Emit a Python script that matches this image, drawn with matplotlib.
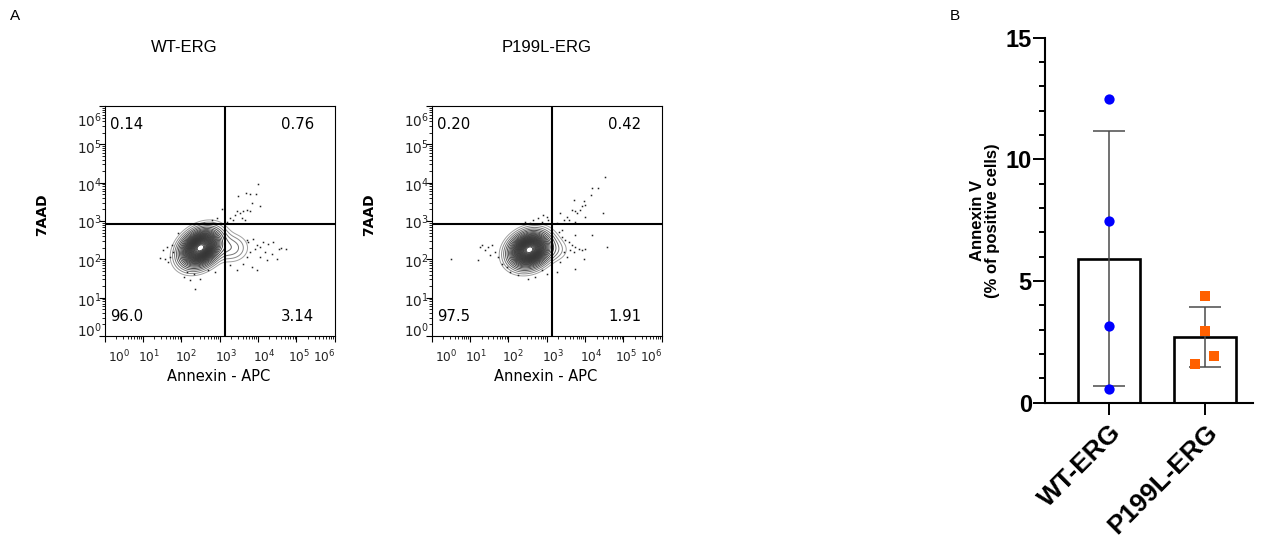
import numpy as np
import matplotlib
matplotlib.use("Agg")
import matplotlib.pyplot as plt
from matplotlib.ticker import LogLocator, MultipleLocator, NullFormatter
from matplotlib.transforms import blended_transform_factory

# ---------------- panel A: flow data (all in log10 units) ----------------
titles = ["WT-ERG", "P199L-ERG"]
quad_pct = [["0.14", "0.76", "96.0", "3.14"], ["0.20", "0.42", "97.5", "1.91"]]
gate_x = [3.14, 3.13]   # annexin gate
gate_y = [2.91, 2.91]   # 7AAD gate

# main population: centre x, centre y, sd x, sd y, corr
main_pop = [[2.50, 2.30, 0.26, 0.24, 0.30], [2.55, 2.25, 0.26, 0.225, 0.20]]
# annexin+ shoulder: centre x, centre y, sd x, sd y, relative weight
shoulder_pop = [[3.28, 2.30, 0.25, 0.20, 0.05], [3.17, 2.25, 0.22, 0.17, 0.03]]

# outlier events
wt_dots_x = [4.01, 3.80, 3.95, 3.69, 3.49, 4.06, 3.84, 3.71, 3.62, 3.80, 3.54, 3.40, 3.27, 3.36, 3.58, 3.67, 3.45, 3.06, 3.19,
             3.75, 3.88, 3.97, 4.06, 4.14, 4.27, 4.40, 4.54, 4.74, 3.80, 3.71, 3.84, 3.97, 4.19, 4.06, 4.36, 3.62, 3.45, 3.27, 4.23, 3.71, 3.93, 4.60, 4.50,
             1.53, 1.62, 1.71, 1.66, 1.79, 2.06, 2.14, 2.36, 2.49, 2.32, 1.58, 1.75, 1.92, 2.80, 2.93, 2.58, 2.71, 2.88, 2.23, 1.45]
wt_dots_y = [3.97, 3.71, 3.71, 3.73, 3.66, 3.39, 3.48, 3.29, 3.25, 3.25, 3.20, 3.16, 3.07, 3.03, 3.07, 3.03, 3.25, 3.31, 2.98,
             2.46, 2.54, 2.37, 2.32, 2.46, 2.41, 2.46, 2.28, 2.26, 2.19, 2.06, 1.80, 1.71, 2.19, 2.06, 2.15, 1.89, 1.71, 1.84, 1.97, 2.50, 2.28, 2.30, 2.00,
             2.24, 2.32, 2.06, 1.93, 2.19, 1.53, 1.67, 1.23, 1.49, 1.62, 2.02, 2.37, 2.68, 3.03, 3.07, 2.94, 1.71, 1.67, 1.45, 2.03]
p199_dots_x = [4.52, 4.18, 4.35, 4.16, 3.96, 4.00, 3.92, 3.70, 3.66, 3.74, 3.79, 3.87, 4.48, 3.52, 3.44, 3.57, 3.74, 3.35, 3.26, 4.00,
               2.44, 2.65, 2.78, 2.91, 3.00, 3.04, 2.57, 2.87,
               3.31, 3.39, 3.48, 3.57, 3.66, 3.74, 3.61, 3.70, 3.83, 3.92, 4.00, 4.18, 3.74, 3.52, 3.44, 3.35, 3.74, 3.96, 4.57, 3.26, 3.39,
               1.26, 1.31, 1.39, 1.48, 1.52, 1.57, 1.22, 1.74, 1.96, 2.04, 2.26, 2.52, 2.70, 3.00, 1.83, 2.87, 1.65, 0.50]
p199_dots_y = [4.15, 3.86, 3.86, 3.68, 3.51, 3.42, 3.38, 3.55, 3.29, 3.25, 3.20, 3.29, 3.20, 3.11, 3.03, 3.03, 2.98, 3.20, 2.94, 3.11,
               2.98, 3.03, 3.07, 3.16, 3.11, 3.03, 2.94, 2.98,
               2.72, 2.59, 2.50, 2.46, 2.37, 2.32, 2.24, 2.19, 2.28, 2.24, 2.28, 2.63, 2.63, 2.06, 2.19, 1.93, 1.75, 2.02, 2.31, 1.67, 2.76,
               2.32, 2.37, 2.24, 2.32, 2.11, 2.37, 1.99, 2.06, 1.80, 1.67, 1.58, 1.49, 1.53, 1.62, 1.89, 1.71, 2.19, 2.02]
dots_x = [wt_dots_x, p199_dots_x]
dots_y = [wt_dots_y, p199_dots_y]

decades = [0, 1, 2, 3, 4, 5, 6]

# ---------------- panel B: annexin V % ----------------
groups = ["WT-ERG", "P199L-ERG"]
wt_vals = [12.5, 7.45, 3.15, 0.55]
p199_vals = [4.37, 2.93, 1.93, 1.59]

fig = plt.figure(figsize=(12.64, 5.5), dpi=100)

# probability-style contour levels (fraction of peak)
outer_levels = [0.01, 0.02, 0.035, 0.055, 0.08]
outer_cols = ['#a0a0a0', '#8a8a8a', '#747474', '#5e5e5e', '#4a4a4a']
inner_levels = [round(0.11 + 0.03 * k, 2) for k in range(29)]

# tick-label placement as drawn by the cytometry software
xlab_pos = [0.38, 1.15, 2.13, 3.17, 4.16, 5.08, 5.72]
ylab_pos = [0.14, 0.93, 1.95, 2.95, 3.91, 4.92, 5.62]

gx = np.linspace(0, 6, 500)
GX, GY = np.meshgrid(gx, gx)

for i, left in enumerate([104.6, 431.7]):
    ax = fig.add_axes([left / 1264, (550 - 336) / 550, 230 / 1264, 230 / 550])
    ax.set_xscale('log')
    ax.set_yscale('log')
    ax.set_xlim(1, 1e6)
    ax.set_ylim(1, 1e6)

    cx, cy, sx, sy, r = main_pop[i]
    u = (GX - cx) / sx
    v = (GY - cy) / sy
    Z = np.exp(-(u**2 - 2 * r * u * v + v**2) / (2 * (1 - r**2)))
    hx, hy, hsx, hsy, w = shoulder_pop[i]
    Z = Z + w * np.exp(-0.5 * (((GX - hx) / hsx)**2 + ((GY - hy) / hsy)**2))
    zmax = Z.max()
    ax.contour(10**GX, 10**GY, Z, levels=[f * zmax for f in outer_levels],
               colors=outer_cols, linewidths=0.7, zorder=2)
    ax.contour(10**GX, 10**GY, Z, levels=[f * zmax for f in inner_levels],
               colors='#2e2e2e', linewidths=0.55, zorder=2)

    ax.plot(10**np.array(dots_x[i]), 10**np.array(dots_y[i]), 's', ms=1.1, mew=0,
            color='#222222', zorder=2)

    ax.axvline(10**gate_x[i], color='black', lw=1.5, zorder=3)
    ax.axhline(10**gate_y[i], color='black', lw=1.5, zorder=3)

    for axis in [ax.xaxis, ax.yaxis]:
        axis.set_major_locator(LogLocator(base=10, numticks=20))
        axis.set_minor_locator(LogLocator(base=10, subs=np.arange(2, 10), numticks=100))
        axis.set_minor_formatter(NullFormatter())
    ax.set_xticks([10**d for d in decades])
    ax.set_yticks([10**d for d in decades])
    ax.tick_params(which='major', direction='out', length=4.5, width=0.8,
                   labelbottom=False, labelleft=False)
    ax.tick_params(which='minor', direction='out', length=2.2, width=0.6)
    for s in ax.spines.values():
        s.set_linewidth(0.8)

    tx = blended_transform_factory(ax.transData, ax.transAxes)
    ty = blended_transform_factory(ax.transAxes, ax.transData)
    for d, p in zip(decades, xlab_pos):
        ax.text(10**p, -0.055, r'$10^{%d}$' % d, transform=tx, ha='center', va='top',
                fontsize=8.7, color='#222222')
    for d, p in zip(decades, ylab_pos):
        ax.text(-0.012, 10**p, r'$10^{%d}$' % d, transform=ty, ha='right', va='center',
                fontsize=9.8, color='#222222')

    q = quad_pct[i]
    ax.text(0.025, 0.92, q[0], transform=ax.transAxes, ha='left', va='center', fontsize=10.7)
    ax.text(0.91, 0.92, q[1], transform=ax.transAxes, ha='right', va='center', fontsize=10.7)
    ax.text(0.025, 0.084, q[2], transform=ax.transAxes, ha='left', va='center', fontsize=10.7)
    ax.text(0.91, 0.084, q[3], transform=ax.transAxes, ha='right', va='center', fontsize=10.7)

    ax.text(0.495, -0.178, 'Annexin - APC', transform=ax.transAxes, ha='center', va='center',
            fontsize=10.5)
    ax.text(-0.272, 0.526, '7AAD', transform=ax.transAxes, ha='center', va='center',
            rotation=90, fontsize=10, fontweight='bold')

fig.text(184 / 1264, 1 - 47 / 550, titles[0], ha='center', va='center',
         family='Liberation Sans', fontsize=12)
fig.text(547 / 1264, 1 - 47 / 550, titles[1], ha='center', va='center',
         family='Liberation Sans', fontsize=12)
fig.text(15 / 1264, 1 - 16 / 550, 'A', ha='center', va='center', family='Liberation Sans', fontsize=11)
fig.text(955 / 1264, 1 - 16 / 550, 'B', ha='center', va='center', family='Liberation Sans', fontsize=11)

# ---------------- panel B ----------------
axb = fig.add_axes([1045 / 1264, (550 - 402.7) / 550, 208 / 1264, 365 / 550])
vals = [wt_vals, p199_vals]
means = [np.mean(v) for v in vals]
sds = [np.std(v, ddof=1) for v in vals]
xpos = np.arange(len(groups))
axb.bar(xpos, means, width=0.64, color='white', edgecolor='black', linewidth=1.9, zorder=2)
axb.errorbar(xpos, means, yerr=sds, fmt='none', ecolor='#4a4a4a', elinewidth=1.1,
             capsize=11.5, capthick=1.1, zorder=3)
x_jitter = [[0, 0, 0, 0], [0.0, 0.0, 0.09, -0.1]]
axb.plot(xpos[0] + np.array(x_jitter[0]), wt_vals, 'o', ms=7.4, color='#0000ff', mew=0, zorder=4)
axb.plot(xpos[1] + np.array(x_jitter[1]), p199_vals, 's', ms=7, color='#ff6000', mew=0, zorder=4)

axb.set_xlim(-0.667, 1.5)
axb.set_ylim(0, 15)
axb.set_yticks([0, 5, 10, 15])
axb.yaxis.set_minor_locator(MultipleLocator(1))
axb.set_xticks(xpos)
axb.set_xticklabels(groups, rotation=45, ha='right', rotation_mode='anchor',
                    family='Liberation Sans', fontweight='bold', fontsize=19)
for lab in axb.get_yticklabels():
    lab.set_family('Liberation Sans')
    lab.set_fontweight('bold')
    lab.set_fontsize(17)
axb.tick_params(which='major', direction='out', length=8.5, width=1.4, pad=1)
axb.tick_params(which='minor', direction='out', length=4.5, width=1.4)
axb.tick_params(axis='x', pad=4)
for s in ['top', 'right']:
    axb.spines[s].set_visible(False)
for s in ['left', 'bottom']:
    axb.spines[s].set_linewidth(1.5)
axb.set_ylabel('Annexin V\n(% of positive cells)', family='Liberation Sans', fontweight='bold',
               fontsize=12, labelpad=4, linespacing=1.0)

fig.savefig('out.png', dpi=100)
